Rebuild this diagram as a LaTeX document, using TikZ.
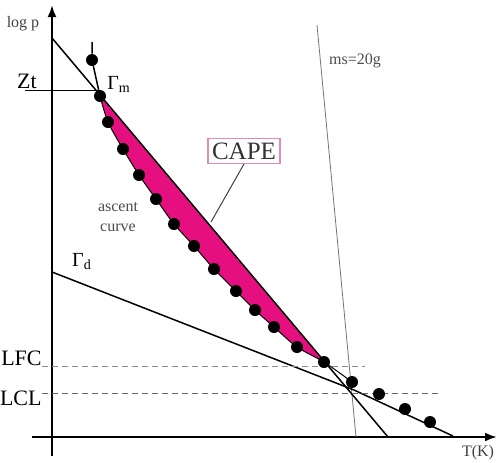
\documentclass[tikz,border=0pt]{standalone}
\usepackage{fontspec}
\setmainfont{Liberation Serif}
\usepackage{xcolor}
\usepackage{tikz}
\usetikzlibrary{arrows.meta}
\definecolor{capefill}{rgb}{0.90,   0.06,   0.50}
\definecolor{capeline}{rgb}{0.88,   0.55,   0.72}
\definecolor{levelline}{rgb}{0.40,   0.40,   0.40}
\definecolor{softtext}{rgb}{0.30,   0.30,   0.30}

\begin{document}
\begin{tikzpicture}[x=0.5pt,y=-0.5pt]
\tikzset{axis/.style={line width=1.1pt, -{Latex[length=6pt,width=4.5pt]}},
profile/.style={line width=0.75pt},
parcel/.style={circle, fill=black, inner sep=0pt, minimum size=6pt},
level/.style={line width=0.45pt, densely dashed, draw=levelline},
biglabel/.style={font=\fontsize{11pt}{11pt}\selectfont, inner sep=0pt},
smalllabel/.style={font=\fontsize{8pt}{10pt}\selectfont, inner sep=0pt, text=softtext}}
\useasboundingbox (0,0) rectangle (498,462);

% ascent curve points
\foreach \px/\py [count=\i] in {100/96, 108/122, 123/149, 139/175, 156/199, 174/224, 194/246, 214/269, 236/291, 255/310, 274/327, 297/347, 324/362, 352/382, 379/394, 405/409, 430/422}
  \coordinate (c\i) at (\px,\py);

\fill[capefill] plot[smooth] coordinates {(c1) (c2) (c3) (c4) (c5) (c6) (c7) (c8) (c9) (c10) (c11) (c12) (c13)} -- cycle;

\draw[axis] (52,456) -- (52,5);
\draw[axis] (32,437) -- (497,437);
\node[smalllabel, text=black!75] (logp) at (23,24) {log p};
\node[smalllabel, text=black!75] (tk) at (478,453) {T(K)};

\coordinate (envtop) at (52,38);
\coordinate (envbot) at (388,437);
\coordinate (gdtop) at (52,272);
\coordinate (lcl) at (354,390);
\coordinate (gdend) at (453,436);
\coordinate (asctop) at (92,42);
\coordinate (mstop) at (317,25);
\coordinate (msbot) at (356,437);

\draw[line width=0.4pt, draw=black!55] (mstop) -- (msbot);
\node[smalllabel] (ms) at (355,61) {ms=20g};

\draw[profile] (envtop) -- (envbot);
\draw[profile] (gdtop) -- (lcl) -- (gdend);
\draw[line width=0.5pt] plot[smooth] coordinates {(c1) (c2) (c3) (c4) (c5) (c6) (c7) (c8) (c9) (c10) (c11) (c12) (c13) (c14)};

\node[biglabel] (zt) at (27,81) {Zt};
\coordinate (ztend) at (100,90);
\draw[line width=0.45pt] (25,90) -- (ztend);

\node[biglabel, anchor=east] (lfc) at (42,358) {LFC};
\node[biglabel, anchor=east] (lcllabel) at (42,398) {LCL};
\coordinate (lfcend) at (365,366);
\coordinate (lclend) at (438,393);
\draw[level, draw=black!45] (lfc.east |- lfcend) -- (lfcend);
\draw[level] (lcllabel.east |- lclend) -- (lclend);

\node[parcel] (p0) at (92,60) {};
\draw[profile] (asctop) -- (p0) -- (c1);
\foreach \i in {1,...,17}
  \node[parcel] (p\i) at (c\i) {};

\node[font=\fontsize{10pt}{10pt}\selectfont, inner sep=0pt] (gm) at (119,84) {Γ\textsubscript{m}};
\node[font=\fontsize{10pt}{10pt}\selectfont, inner sep=0pt] (gd) at (82,262) {Γ\textsubscript{d}};

\node[draw=capeline, line width=0.6pt, inner sep=2pt, font=\fontsize{12.5pt}{12.5pt}\selectfont, text=black!80] (cape) at (244,151) {CAPE};
\coordinate (capetip) at (211,222);
\draw[line width=0.5pt, draw=black!75] (cape.south) -- (capetip);

\node[smalllabel, align=center] (ascent) at (118,217) {ascent\\curve};

\end{tikzpicture}
\end{document}
